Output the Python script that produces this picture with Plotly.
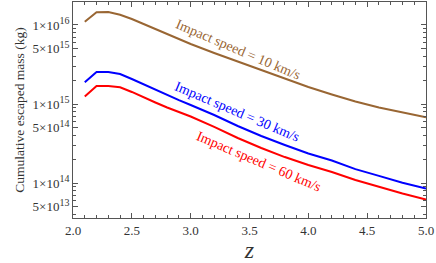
import plotly.graph_objects as go

z = [2.1, 2.2, 2.3, 2.4, 2.5, 2.6, 2.7, 2.8, 2.9, 3.0, 3.2, 3.4, 3.6, 3.8, 4.0, 4.2, 4.4, 4.6, 4.8, 5.0]
mass_10 = [1.10e16, 1.45e16, 1.46e16, 1.35e16, 1.19e16, 1.03e16, 8.90e15, 7.58e15, 6.55e15, 5.75e15,
           4.42e15, 3.45e15, 2.69e15, 2.10e15, 1.64e15, 1.32e15, 1.075e15, 9.03e14, 7.81e14, 6.79e14]
mass_30 = [1.88e15, 2.54e15, 2.54e15, 2.40e15, 2.07e15, 1.77e15, 1.50e15, 1.30e15, 1.12e15, 9.71e14,
           7.26e14, 5.27e14, 3.93e14, 3.03e14, 2.36e14, 1.93e14, 1.50e14, 1.23e14, 1.01e14, 8.52e13]
mass_60 = [1.24e15, 1.69e15, 1.69e15, 1.63e15, 1.42e15, 1.21e15, 1.045e15, 9.03e14, 7.92e14, 6.95e14,
           5.12e14, 3.71e14, 2.77e14, 2.13e14, 1.69e14, 1.38e14, 1.09e14, 8.90e13, 7.36e13, 6.18e13]

series = [
    ("Impact speed = 10 km/s", mass_10, "#996633", 3.40, 15.684),
    ("Impact speed = 30 km/s", mass_30, "#0000ff", 3.39, 14.899),
    ("Impact speed = 60 km/s", mass_60, "#ff0000", 3.58, 14.278),
]

y_tickvals = [5e13, 1e14, 5e14, 1e15, 5e15, 1e16]
y_mant = ["5", "1", "5", "1", "5", "1"]
y_exp = ["13", "14", "14", "15", "15", "16"]
x_tickvals = [2.0, 2.5, 3.0, 3.5, 4.0, 4.5, 5.0]
x_ticktext = ["2.0", "2.5", "3.0", "3.5", "4.0", "4.5", "5.0"]

y_ticktext = [f"{m}×10<sup><span style='font-size:10px'>{e}</span></sup>"
              for m, e in zip(y_mant, y_exp)]

minor_y = []
for e in [13, 14, 15, 16]:
    for m in [2, 3, 4, 6, 7, 8, 9]:
        minor_y.append(m * 10 ** e)

FONT = "Liberation Serif"
FRAME = "#555555"
TXT = "#333333"

fig = go.Figure()
for name, vals, color, ax, ay in series:
    fig.add_trace(go.Scatter(x=z, y=vals, mode="lines", name=name,
                             line=dict(color=color, width=2), showlegend=False))
    fig.add_annotation(x=ax, y=ay, text=name, showarrow=False, textangle=23,
                       font=dict(family=FONT, size=14, color=color))

fig.update_layout(
    width=436, height=263,
    margin=dict(l=73, r=10, t=2, b=45, autoexpand=False),
    paper_bgcolor="white", plot_bgcolor="white",
    font=dict(family=FONT, color=TXT),
)
fig.update_xaxes(
    range=[2.0, 5.0], showgrid=False, zeroline=False, automargin=False,
    showline=True, linecolor=FRAME, linewidth=1, mirror="allticks",
    ticks="inside", ticklen=5, tickcolor=FRAME,
    tickmode="array", tickvals=x_tickvals, ticktext=x_ticktext,
    tickfont=dict(family=FONT, size=13, color=TXT),
    minor=dict(dtick=0.1, ticks="inside", ticklen=3, tickcolor=FRAME, showgrid=False),
    title=dict(text="<i>z</i>", font=dict(family=FONT, size=24, color=TXT), standoff=2),
)
fig.update_yaxes(
    type="log", range=[13.557, 16.291], showgrid=False, zeroline=False, automargin=False,
    showline=True, linecolor=FRAME, linewidth=1, mirror="allticks",
    ticks="inside", ticklen=5, tickcolor=FRAME,
    tickmode="array", tickvals=y_tickvals, ticktext=y_ticktext,
    tickfont=dict(family=FONT, size=13, color=TXT),
    minor=dict(tickmode="array", tickvals=minor_y, ticks="inside", ticklen=3,
               tickcolor=FRAME, showgrid=False),
    title=dict(text="Cumulative escaped mass (kg)", font=dict(family=FONT, size=13.5, color=TXT),
               standoff=4),
)

fig.write_html("out.html", config={"displayModeBar": False},
               post_script="document.body.style.margin='0';")
